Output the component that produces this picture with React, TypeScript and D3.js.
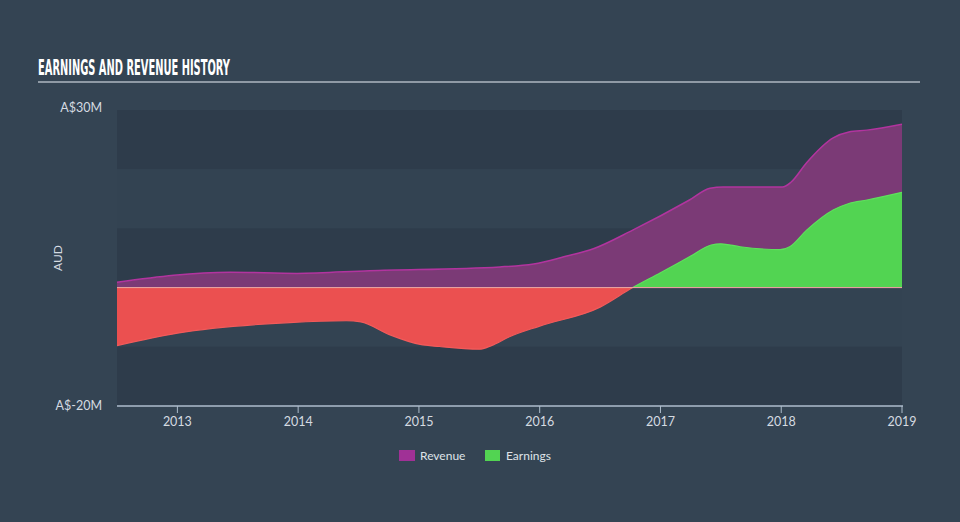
import React from "react";
import * as d3 from "d3";

const revenueYears = [2012.5, 2013.44, 2013.99, 2014.59, 2015.67, 2015.95, 2016.2, 2016.45, 2016.77, 2017.24, 2017.41, 2017.52, 2018.01, 2018.08, 2018.21, 2018.43, 2018.56, 2018.71, 2019.0];
const revenueValues = [0.9, 2.6, 2.4, 2.85, 3.5, 4.0, 5.2, 6.6, 9.7, 14.8, 16.8, 17.0, 17.0, 17.8, 21.1, 25.3, 26.3, 26.6, 27.6];

const earningsYears = [2012.5, 2013.0, 2013.93, 2014.4, 2014.52, 2014.75, 2015.01, 2015.17, 2015.5, 2015.6, 2015.75, 2016.0, 2016.5, 2016.77, 2017.0, 2017.24, 2017.42, 2017.5, 2017.66, 2017.99, 2018.07, 2018.21, 2018.43, 2018.56, 2018.71, 2019.0];
const earningsValues = [-9.8, -7.7, -5.9, -5.6, -5.8, -7.9, -9.6, -9.95, -10.4, -9.8, -8.3, -6.5, -3.3, 0, 2.5, 5.2, 7.2, 7.4, 6.9, 6.4, 6.9, 9.7, 13.1, 14.2, 14.8, 16.1];

const xTicks = [2013, 2014, 2015, 2016, 2017, 2018, 2019];
const yDomain = [-20, 30];
const yLabels = ["A$30M", "A$-20M"];
const bandEdges = [30, 20, 10, 0, -10, -20];
const legendNames = ["Revenue", "Earnings"];

const W = 960, H = 522;
const L = 117, R = 902, T = 110, B = 406;

export default function App() {
  const x = d3.scaleLinear().domain([2012.5, 2019.0]).range([L, R]);
  const y = d3.scaleLinear().domain(yDomain).range([B, T]);

  const rev = revenueYears.map((t, i) => ({ t, v: revenueValues[i] }));
  const earn = earningsYears.map((t, i) => ({ t, v: earningsValues[i] }));

  const area = d3.area<{ t: number; v: number }>()
    .x(d => x(d.t)).y0(y(0)).y1(d => y(d.v)).curve(d3.curveMonotoneX);
  const line = d3.line<{ t: number; v: number }>()
    .x(d => x(d.t)).y(d => y(d.v)).curve(d3.curveMonotoneX);

  const bandColors = ["#2e3c4b", "#334352", "#2e3c4b", "#334352", "#2e3c4b"];
  const zeroY = y(0);

  const font = "Lato, 'Open Sans', sans-serif";

  return (
    <svg width={W} height={H} style={{ position: "absolute", left: 0, top: 0, display: "block" }}>
      <defs>
        <clipPath id="above"><rect x={L} y={T - 20} width={R - L} height={zeroY - T + 20} /></clipPath>
        <clipPath id="below"><rect x={L} y={zeroY} width={R - L} height={B - zeroY} /></clipPath>
      </defs>
      <rect x={0} y={0} width={W} height={H} fill="#344453" />
      <text x={38} y={75} fill="#ffffff" fontFamily="'Liberation Sans Narrow', 'DejaVu Sans Condensed', sans-serif" fontWeight="bold" fontSize={21} textLength={192} lengthAdjust="spacingAndGlyphs">EARNINGS AND REVENUE HISTORY</text>
      <line x1={38} x2={920} y1={82} y2={82} stroke="#aeb7c0" strokeWidth={1.5} />

      {bandEdges.slice(0, -1).map((v, i) => (
        <rect key={v} x={L} y={y(v)} width={R - L} height={y(bandEdges[i + 1]) - y(v)} fill={bandColors[i]} />
      ))}

      <path d={area(rev) || ""} fill="#7b3a76" />
      <path d={line(rev) || ""} fill="none" stroke="#b2349f" strokeWidth={1.5} />

      <g clipPath="url(#above)">
        <path d={area(earn) || ""} fill="#52d452" />
        <path d={line(earn) || ""} fill="none" stroke="#5ee05c" strokeWidth={1.2} />
      </g>
      <g clipPath="url(#below)">
        <path d={area(earn) || ""} fill="#eb5050" />
        <path d={line(earn) || ""} fill="none" stroke="#f25a5a" strokeWidth={1.2} />
      </g>
      <line x1={L} x2={R} y1={zeroY} y2={zeroY} stroke="#f3a7a7" strokeWidth={1} />

      <line x1={L} x2={R + 1} y1={B} y2={B} stroke="#aebdcc" strokeWidth={1.5} />
      {xTicks.map(t => (
        <g key={t}>
          <line x1={x(t)} x2={x(t)} y1={B} y2={B + 7} stroke="#aebdcc" strokeWidth={1} />
          <text x={x(t)} y={426} textAnchor="middle" fill="#d5dbe1" fontFamily={font} fontSize={12.5}>{t}</text>
        </g>
      ))}

      <text x={102} y={112} textAnchor="end" fill="#d5dbe1" fontFamily={font} fontSize={12.5}>{yLabels[0]}</text>
      <text x={102} y={410} textAnchor="end" fill="#d5dbe1" fontFamily={font} fontSize={12.5}>{yLabels[1]}</text>
      <text transform="translate(62,258) rotate(-90)" textAnchor="middle" fill="#d5dbe1" fontFamily={font} fontSize={12}>AUD</text>

      <rect x={399} y={450} width={16} height={11} fill="#a03196" />
      <text x={420} y={460} fill="#dfe3e8" fontFamily={font} fontSize={12}>{legendNames[0]}</text>
      <rect x={485} y={450} width={15} height={11} fill="#52d452" />
      <text x={506} y={460} fill="#dfe3e8" fontFamily={font} fontSize={12}>{legendNames[1]}</text>
    </svg>
  );
}
